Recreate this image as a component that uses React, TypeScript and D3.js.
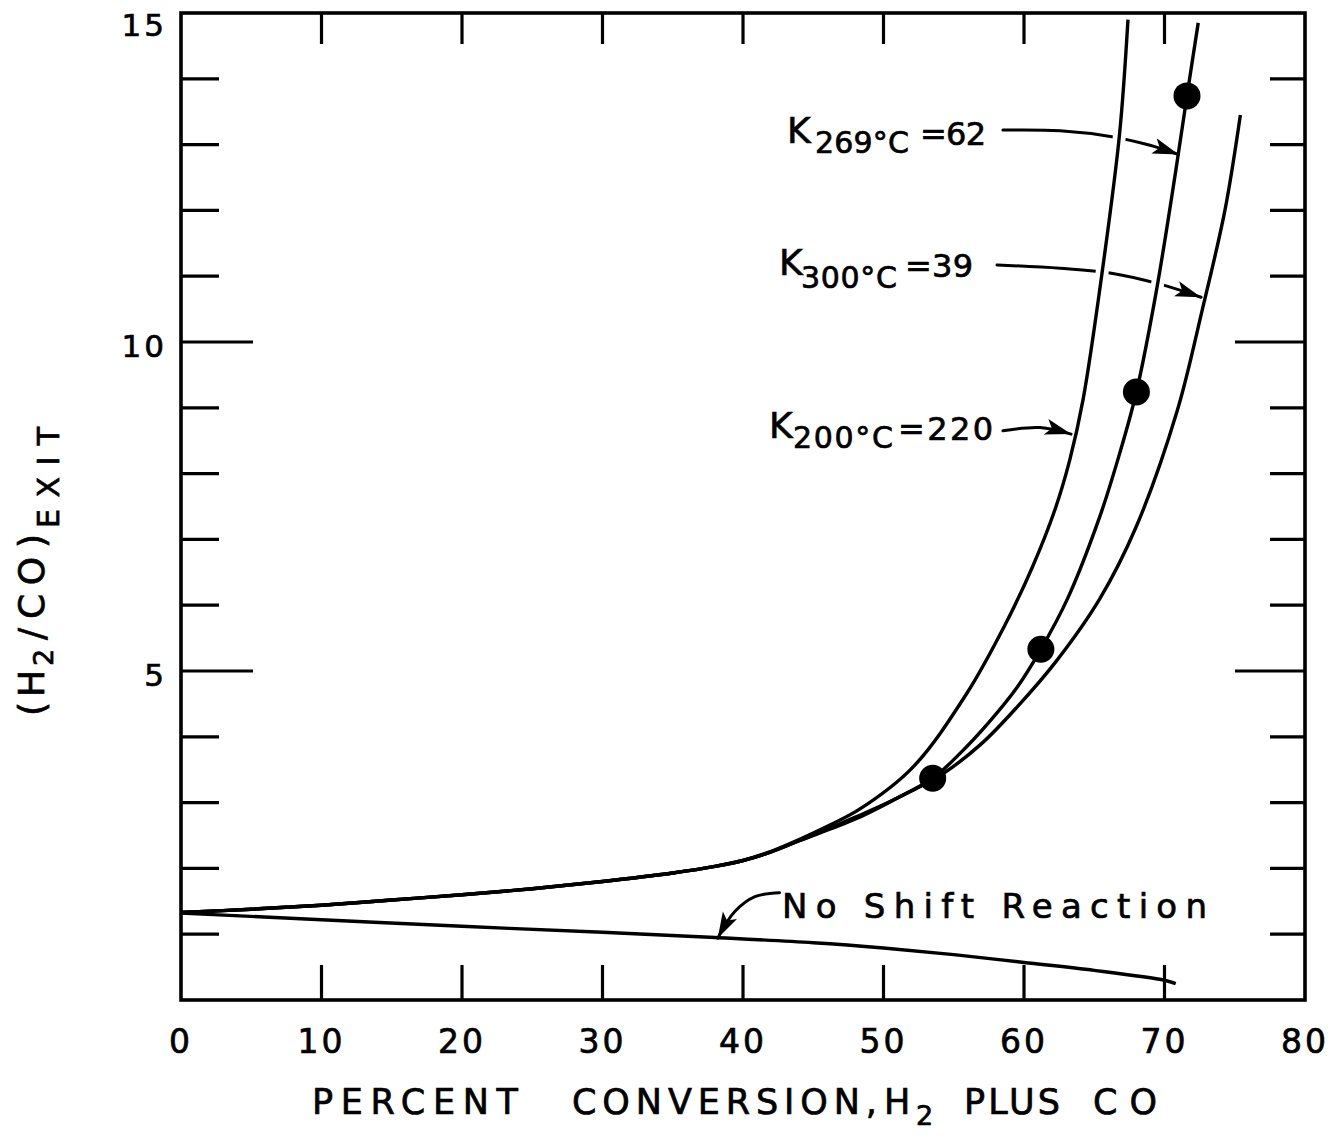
import React from 'react';
import * as d3 from 'd3';

const W = 1342;
const H = 1136;

// axis ticks
const xTickLabels = [0, 10, 20, 30, 40, 50, 60, 70, 80];
const xInnerTicks = [10, 20, 30, 40, 50, 60, 70];
const yTickLabels = [5, 10, 15];
const yInnerTicks = [1, 2, 3, 4, 5, 6, 7, 8, 9, 10, 11, 12, 13, 14];

// curves [percent conversion, (H2/CO) exit]
const k200Curve: [number, number][] = [
  [0, 1.33], [5, 1.38], [10, 1.44], [15, 1.52], [20, 1.6], [25, 1.69], [30, 1.8], [35, 1.93],
  [38, 2.03], [40, 2.12], [42, 2.26], [44, 2.44], [46, 2.64], [48.3, 2.9], [52.1, 3.54],
  [55.9, 4.65], [58.6, 5.68], [60.6, 6.58], [62.2, 7.45], [63.25, 8.2], [64.2, 9.12],
  [65.6, 11.12], [66.8, 13.16], [67.4, 14.9],
];
const k269Curve: [number, number][] = [
  [0, 1.33], [5, 1.38], [10, 1.44], [15, 1.52], [20, 1.6], [25, 1.69], [30, 1.8], [35, 1.93],
  [38, 2.03], [40, 2.12], [42, 2.25], [44, 2.42], [48, 2.78], [50.5, 3.02], [53.5, 3.37],
  [55.5, 3.76], [57.5, 4.22], [59.5, 4.75], [61.2, 5.33], [63.1, 6.1], [65.4, 7.35], [66.8, 8.3],
  [68.0, 9.24], [69.4, 10.75], [70.8, 12.6], [71.6, 13.74], [72.4, 14.85],
];
const k300Curve: [number, number][] = [
  [0, 1.33], [5, 1.38], [10, 1.44], [15, 1.52], [20, 1.6], [25, 1.69], [30, 1.8], [35, 1.93],
  [38, 2.03], [40, 2.12], [42, 2.25], [44, 2.42], [48, 2.75], [51, 3.07], [54.3, 3.45],
  [57, 3.9], [59.5, 4.45], [62.3, 5.15], [65.4, 6.1], [68, 7.2], [70.9, 8.95], [72.7, 10.5],
  [74.3, 12.0], [75.4, 13.45],
];
const noShiftCurve: [number, number][] = [
  [0, 1.32], [10, 1.22], [20, 1.12], [30, 1.03], [38, 0.95], [45, 0.87], [50, 0.79],
  [55, 0.69], [60, 0.57], [65, 0.45], [70, 0.3], [70.8, 0.25],
];

// experimental points
const pointX = [53.5, 61.2, 68.0, 71.6];
const pointY = [3.37, 5.33, 9.24, 13.74];

// annotation arrows (data units)
const k269Arrow: [number, number][] = [[58.5, 13.22], [62.56, 13.21], [66.26, 13.12], [68.97, 12.99], [71.0, 12.85]];
const k300Arrow: [number, number][] = [[58.08, 11.17], [62.56, 11.12], [66.12, 11.05], [69.68, 10.88], [72.6, 10.68]];
const k200Arrow: [number, number][] = [[58.5, 8.65], [61.14, 8.7], [63.35, 8.6]];
const noShiftArrow: [number, number][] = [[42.6, 1.63], [40.85, 1.57], [39.4, 1.34], [38.2, 0.94]];

const FONT = "'DejaVu Sans', sans-serif";

export default function App() {
  const x = d3.scaleLinear().domain([0, 80]).range([181, 1305]);
  const y = d3.scaleLinear().domain([0, 15]).range([1000, 13]);

  const curveLine = d3
    .line<[number, number]>()
    .x((d) => x(d[0]))
    .y((d) => y(d[1]))
    .curve(d3.curveCatmullRom.alpha(0.5));
  const arrowLine = d3
    .line<[number, number]>()
    .x((d) => x(d[0]))
    .y((d) => y(d[1]))
    .curve(d3.curveCatmullRom.alpha(0.5));

  const x0 = x(0), x1 = x(80), yTop = y(15), yBot = y(0);
  const sw = 3.4;
  const txt = { fill: '#000', stroke: '#000', strokeWidth: 0.7 };

  return (
    <svg
      width={W}
      height={H}
      viewBox={`0 0 ${W} ${H}`}
      style={{ position: 'absolute', left: 0, top: 0, background: '#fff' }}
      fontFamily={FONT}
    >
      <defs>
        <marker id="ah" markerUnits="userSpaceOnUse" markerWidth="28" markerHeight="18" refX="26" refY="9" orient="auto">
          <path d="M0,1 L26,9 L0,17 L6,9 Z" fill="#000" />
        </marker>
        <clipPath id="clip200">
          <rect x={x0} y={y(14.2)} width={x1 - x0} height={y(10.2) - y(14.2)} />
        </clipPath>
        <clipPath id="clip269">
          <rect x={x0} y={y(12.0)} width={x1 - x0} height={y(10.2) - y(12.0)} />
        </clipPath>
      </defs>
      <rect x={0} y={0} width={W} height={H} fill="#fff" />

      {/* annotation arrows */}
      <g fill="none" stroke="#000" strokeWidth={3} strokeLinecap="round">
        <path d={arrowLine(k269Arrow) || ''} markerEnd="url(#ah)" />
        <path d={arrowLine(k300Arrow) || ''} markerEnd="url(#ah)" />
        <path d={arrowLine(k200Arrow) || ''} markerEnd="url(#ah)" />
        <path d={arrowLine(noShiftArrow) || ''} markerEnd="url(#ah)" />
      </g>

      {/* white halos to break arrows where they pass curves */}
      <g fill="none" stroke="#fff" strokeWidth={13}>
        <path d={curveLine(k200Curve) || ''} clipPath="url(#clip200)" />
        <path d={curveLine(k269Curve) || ''} clipPath="url(#clip269)" />
      </g>

      {/* curves */}
      <g fill="none" stroke="#000" strokeWidth={sw} strokeLinejoin="round">
        <path d={curveLine(k200Curve) || ''} />
        <path d={curveLine(k269Curve) || ''} />
        <path d={curveLine(k300Curve) || ''} />
        <path d={curveLine(noShiftCurve) || ''} />
      </g>

      {/* frame */}
      <rect x={x0} y={yTop} width={x1 - x0} height={yBot - yTop} fill="none" stroke="#000" strokeWidth={3.6} />

      {/* ticks */}
      <g stroke="#000" strokeWidth={3.2}>
        {yInnerTicks.map((v) => (
          <line key={'l' + v} x1={x0} x2={x0 + (v % 5 === 0 ? 72 : 38)} y1={y(v)} y2={y(v)} />
        ))}
        {yInnerTicks.map((v) => (
          <line key={'r' + v} x1={x1} x2={x1 - (v % 5 === 0 ? 70 : 35)} y1={y(v)} y2={y(v)} />
        ))}
        {xInnerTicks.map((v) => (
          <line key={'t' + v} x1={x(v)} x2={x(v)} y1={yTop} y2={yTop + 31} />
        ))}
        {xInnerTicks.map((v) => (
          <line key={'b' + v} x1={x(v)} x2={x(v)} y1={yBot} y2={yBot - 35} />
        ))}
      </g>

      {/* data points */}
      <g fill="#000">
        {pointX.map((px, i) => (
          <circle key={i} cx={x(px)} cy={y(pointY[i])} r={13.5} />
        ))}
      </g>

      {/* tick labels */}
      <g fontSize={33} {...txt}>
        {xTickLabels.map((v) => (
          <text key={v} x={x(v)} y={1053} textAnchor="middle" letterSpacing={3}>
            {v}
          </text>
        ))}
      </g>
      <g fontSize={31} {...txt}>
        {yTickLabels.map((v) => (
          <text key={v} x={167} y={Math.max(y(v) + 15, 36)} textAnchor="end" letterSpacing={3}>
            {v}
          </text>
        ))}
      </g>

      {/* x axis title */}
      <g fontSize={35} {...txt}>
        <text x={312} y={1114} textLength={206} lengthAdjust="spacing">PERCENT</text>
        <text x={572} y={1114} textLength={305} lengthAdjust="spacing">CONVERSION,</text>
        <text x={884} y={1114} textLength={26} lengthAdjust="spacing">H</text>
        <text x={916} y={1125} fontSize={27}>2</text>
        <text x={964} y={1114} textLength={96} lengthAdjust="spacing">PLUS</text>
        <text x={1093} y={1114} textLength={64} lengthAdjust="spacing">CO</text>
      </g>

      {/* y axis title */}
      <g transform="rotate(-90)" {...txt}>
        <text x={-716} y={44} fontSize={36} textLength={46} lengthAdjust="spacing">(H</text>
        <text x={-666} y={53} fontSize={27}>2</text>
        <text x={-640} y={44} fontSize={36} textLength={106} lengthAdjust="spacing">/CO)</text>
        <text x={-528} y={59} fontSize={30} textLength={101} lengthAdjust="spacing">EXIT</text>
      </g>

      {/* curve labels */}
      <g {...txt}>
        <text x={787} y={143} fontSize={36}>K</text>
        <text x={815} y={153} fontSize={30} textLength={94} lengthAdjust="spacing">269°C</text>
        <text x={920} y={145} fontSize={32} textLength={66} lengthAdjust="spacing">=62</text>

        <text x={779} y={275} fontSize={36}>K</text>
        <text x={801} y={288} fontSize={30} textLength={96} lengthAdjust="spacing">300°C</text>
        <text x={905} y={277} fontSize={32} textLength={68} lengthAdjust="spacing">=39</text>

        <text x={769} y={438} fontSize={36}>K</text>
        <text x={793} y={448} fontSize={30} textLength={100} lengthAdjust="spacing">200°C</text>
        <text x={898} y={440} fontSize={32} textLength={95} lengthAdjust="spacing">=220</text>

        <text x={782} y={918} fontSize={34} textLength={425} lengthAdjust="spacing">No Shift Reaction</text>
      </g>
    </svg>
  );
}
